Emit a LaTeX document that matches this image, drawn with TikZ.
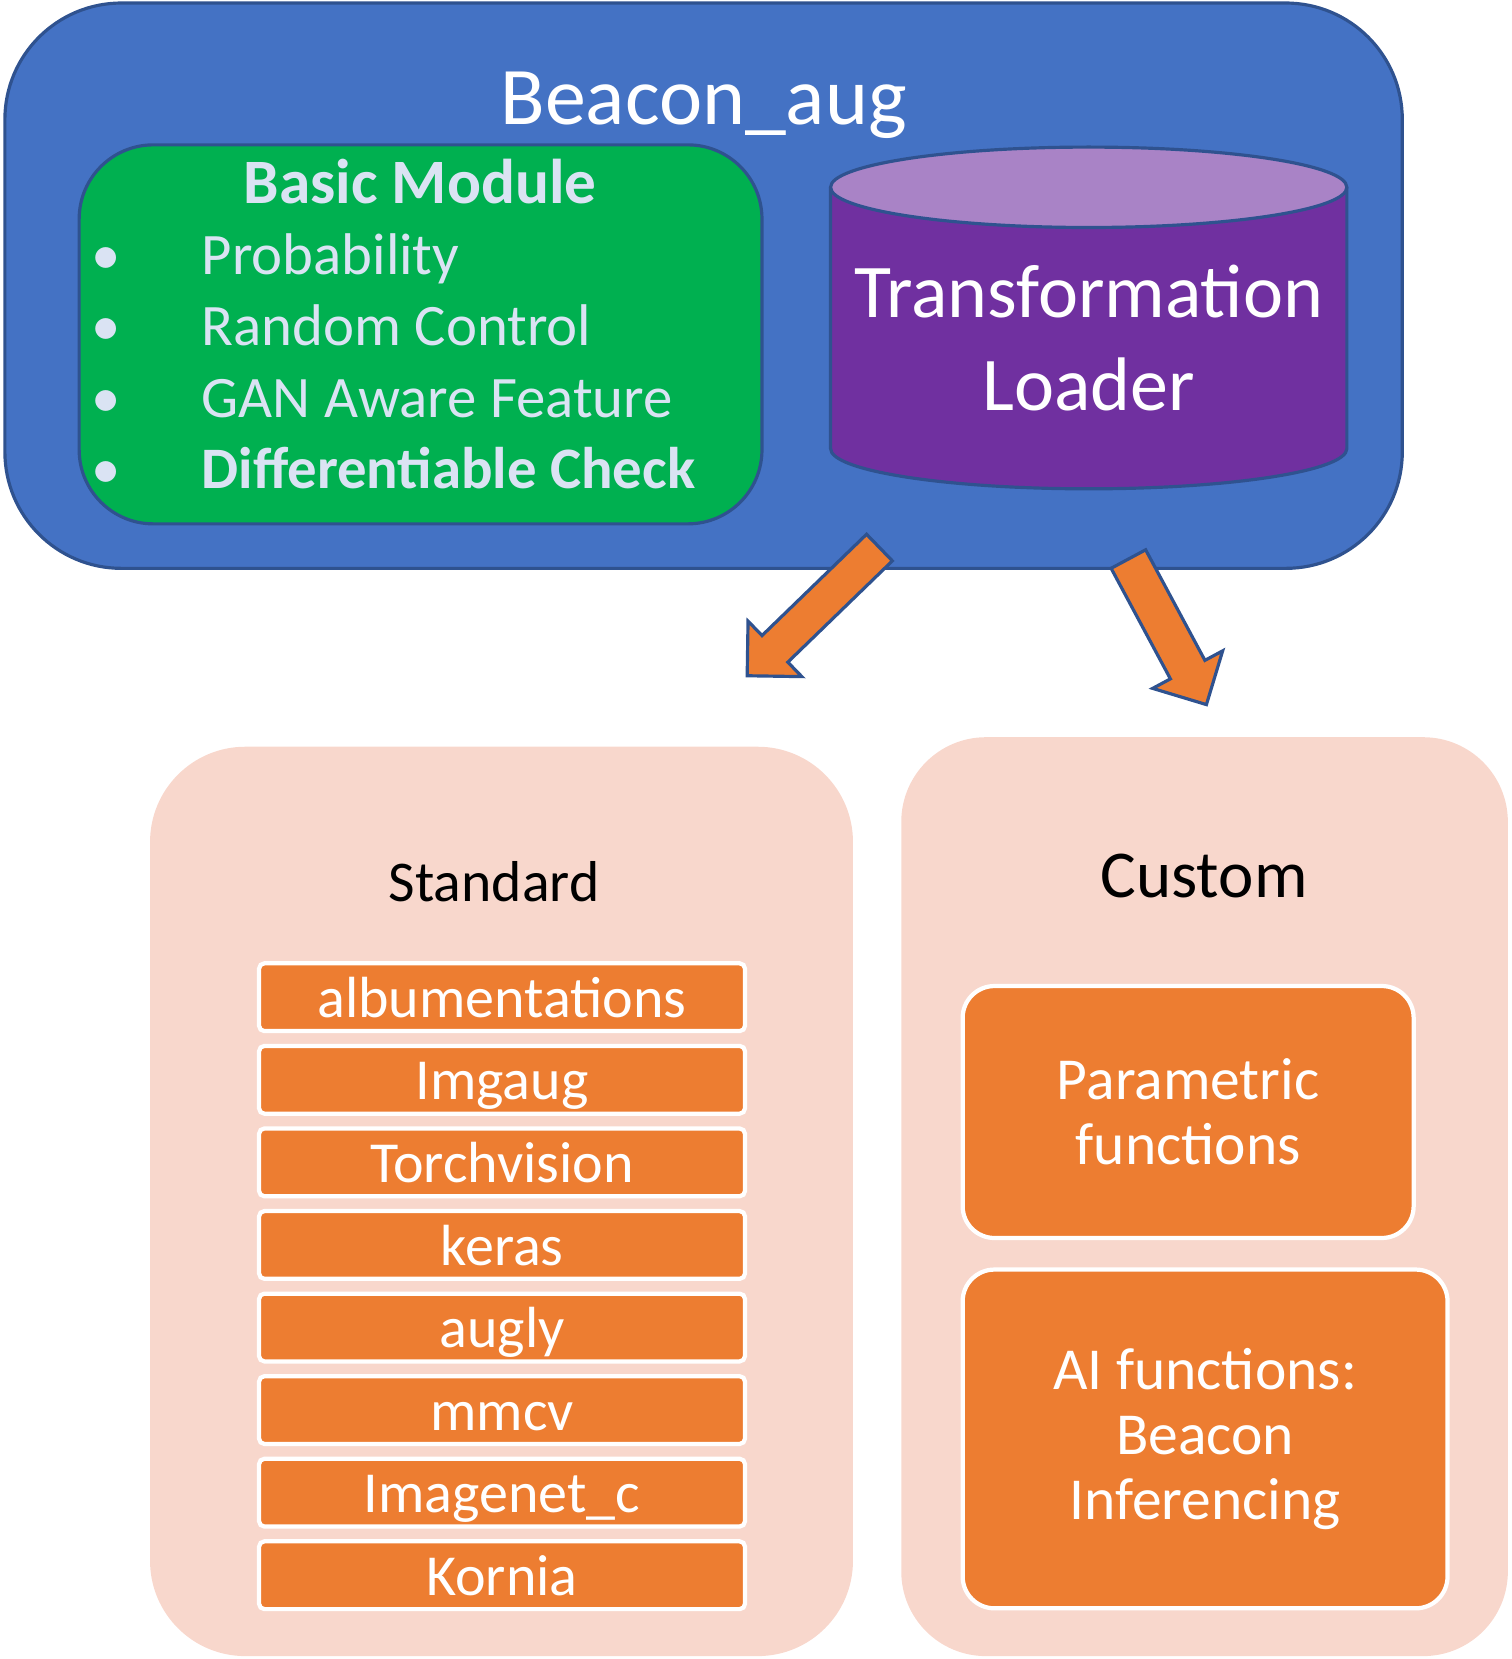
\documentclass[tikz,border=0pt]{standalone}
\usepackage{fontspec}
\setmainfont{Carlito}
\usepackage{tikz}
\usetikzlibrary{shapes.geometric, shapes.arrows, arrows, positioning}
\definecolor{beaconblue}{HTML}{4472C4}
\definecolor{edgeblue}{HTML}{2F528F}
\definecolor{modgreen}{HTML}{00B050}
\definecolor{paleblue}{HTML}{DAE3F3}
\definecolor{loaderpurple}{HTML}{7030A0}
\definecolor{loadertop}{HTML}{A983C6}
\definecolor{peach}{HTML}{F8D7CC}
\definecolor{liborange}{HTML}{ED7D31}
\tikzstyle{panel} = [rectangle, fill=peach, inner sep=0]
\tikzstyle{lib} = [rectangle, draw=white, line width=0.04cm, fill=liborange, text=white, rounded corners=0.05cm, minimum width=4.59cm, minimum height=0.64cm, inner sep=0, text height=0.45cm, text depth=0.07cm, font=\fontsize{15.6}{18}\selectfont]
\tikzstyle{func} = [rectangle, draw=white, line width=0.04cm, fill=liborange, text=white, rounded corners=0.3cm, align=center, font=\fontsize{16}{17.4}\selectfont]
\tikzstyle{bigarrow} = [single arrow, draw=edgeblue, line width=0.03cm, fill=liborange, single arrow head extend=0.19cm]
\tikzstyle{item} = [anchor=base west, inner sep=0, text=paleblue, font=\fontsize{15.8}{18}\selectfont]
\tikzstyle{dot} = [anchor=base, inner sep=0, text=paleblue, font=\fontsize{15.8}{18}\selectfont]

\begin{document}
\begin{tikzpicture}[x=0.01cm, y=-0.01cm, node distance=0.78cm]
  \useasboundingbox (0,0) rectangle (1429,1568);

  % top block
  \node (beacon) [draw=edgeblue, fill=beaconblue, line width=0.03cm, rounded corners=1.1cm, minimum width=13.2cm, minimum height=5.34cm] at (665,270) {};
  \node (title) [anchor=base, text=white, font=\fontsize{22}{26}\selectfont] at (665,118) {Beacon\_aug};

  \node (basic) [draw=edgeblue, fill=modgreen, line width=0.03cm, rounded corners=0.7cm, minimum width=6.45cm, minimum height=3.58cm] at (397.5,316) {};
  \node (basichead) [anchor=base, text=paleblue, font=\fontsize{17}{20}\bfseries] at (397,192) {Basic Module};
  \node (d1) [dot] at (100,259) {•};
  \node (d2) [dot] at (100,327) {•};
  \node (d3) [dot] at (100,395) {•};
  \node (d4) [dot] at (100,462) {•};
  \node (prob) [item] at (190,259) {Probability};
  \node (rand) [item] at (190,327) {Random Control};
  \node (gan) [item] at (190,395) {GAN Aware Feature};
  \node (diff) [item, font=\fontsize{15.8}{18}\bfseries] at (190,462) {Differentiable Check};

  % loader cylinder
  \filldraw [draw=edgeblue, fill=loaderpurple, line width=0.03cm] (785,177) -- (785,424) arc[start angle=180, end angle=0, x radius=244, y radius=38] -- (1273,177);
  \filldraw [draw=edgeblue, fill=loadertop, line width=0.03cm] (1029,177) ellipse[x radius=244, y radius=38];
  \node (trans) [anchor=base, text=white, font=\fontsize{20.4}{24}\selectfont] at (1029,300) {Transformation};
  \node (loader) [anchor=base, text=white, font=\fontsize{20.4}{24}\selectfont] at (1029,388) {Loader};

  % arrows
  \node (leftarrow) [bigarrow, minimum height=1.74cm, minimum width=0.70cm, inner sep=0.16cm, rotate=224.1] at (775,572) {};
  \node (rightarrow) [bigarrow, minimum height=1.56cm, minimum width=0.72cm, inner sep=0.17cm, rotate=298.2] at (1099,589) {};

  % standard libraries
  \node (stdpanel) [panel, rounded corners=0.9cm, minimum width=6.64cm, minimum height=8.59cm] at (474,1135.5) {};
  \node (std) [anchor=base, font=\fontsize{15.5}{18}\selectfont] at (467,852) {Standard};
  \node (alb) [lib] at (474.5,942.5) {albumentations};
  \node (imgaug) [lib, below of=alb] {Imgaug};
  \node (torch) [lib, below of=imgaug] {Torchvision};
  \node (keras) [lib, below of=torch] {keras};
  \node (augly) [lib, below of=keras] {augly};
  \node (mmcv) [lib, below of=augly] {mmcv};
  \node (inet) [lib, below of=mmcv] {Imagenet\_c};
  \node (kornia) [lib, below of=inet] {Kornia};

  % custom functions
  \node (cuspanel) [panel, rounded corners=0.8cm, minimum width=5.73cm, minimum height=8.68cm] at (1138.5,1131) {};
  \node (cus) [anchor=base, font=\fontsize{18}{21}\selectfont] at (1138,848) {Custom};
  \node (param) [func, minimum width=4.26cm, minimum height=2.38cm] at (1123,1051) {Parametric\\functions};
  \node (aifun) [func, minimum width=4.58cm, minimum height=3.20cm] at (1139,1360) {AI functions:\\Beacon\\Inferencing};
\end{tikzpicture}
\end{document}
